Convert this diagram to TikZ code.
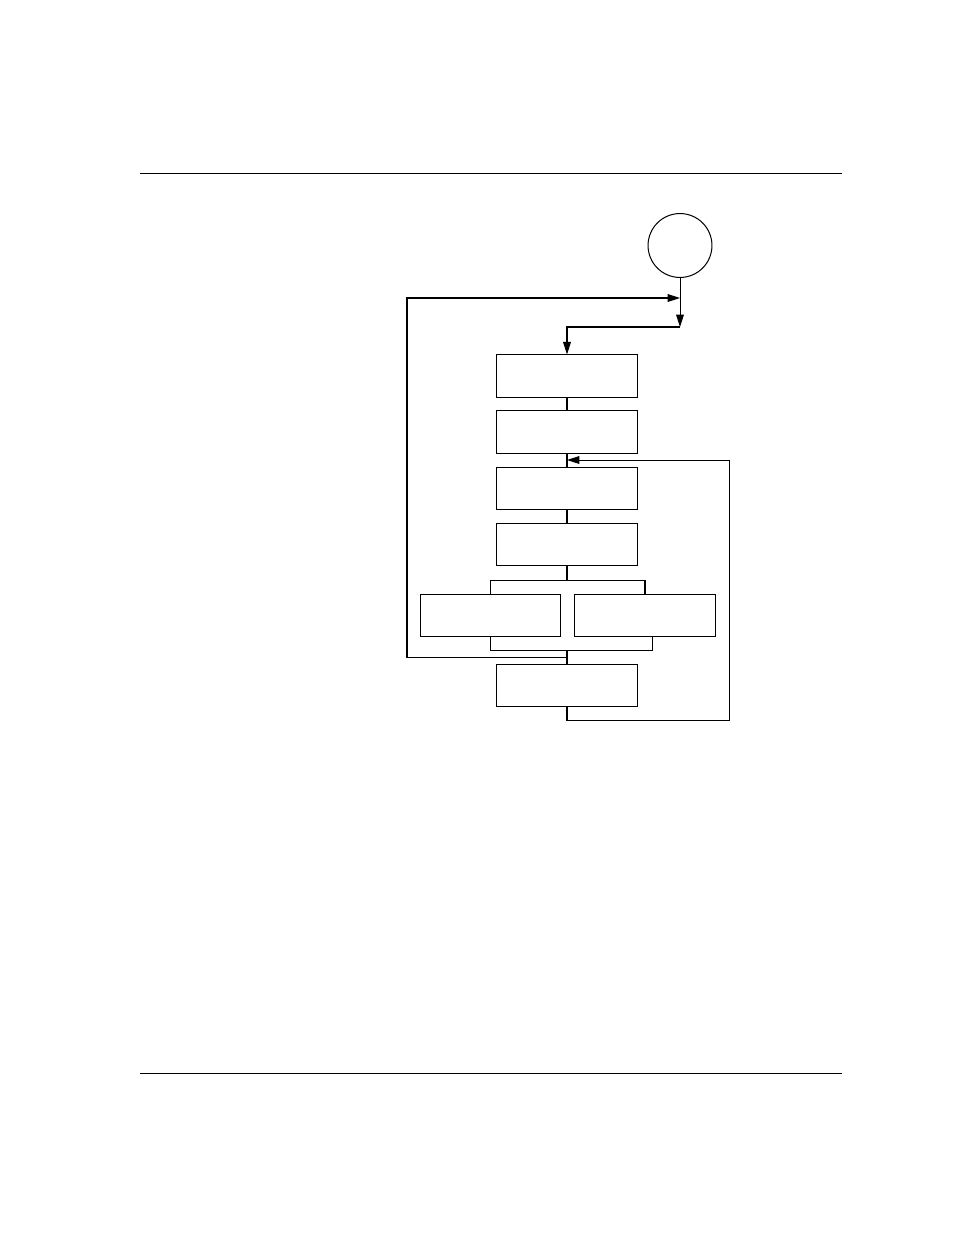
\documentclass[tikz,border=0pt]{standalone}
\usepackage{tikz}
\usetikzlibrary{arrows.meta}

\tikzset{
  blk/.style={draw, rectangle, minimum width=90pt, minimum height=27pt, inner sep=0pt},
  startc/.style={draw, circle, minimum size=41pt, inner sep=0pt},
  lnk/.style={-{Triangle[length=8pt,width=5pt]}}
}

\begin{document}
\begin{tikzpicture}[x=0.6416pt,y=-0.6416pt,line width=0.65pt]
\useasboundingbox (0,0) rectangle (954,1235);
% page rules
\draw[line width=0.55pt] (140,173) -- (842,173);
\draw[line width=0.55pt] (140,1073) -- (842,1073);
% blocks
\node[startc] (st) at (680,245.5) {};
\node[blk] (b1) at (567,376) {};
\node[blk] (b2) at (567,432) {};
\node[blk] (b3) at (567,488.3) {};
\node[blk] (b4) at (567,544.3) {};
\node[blk] (bl) at (490.5,615.3) {};
\node[blk] (br) at (645,615.3) {};
\node[blk] (b5) at (567,685.3) {};
% junctions
\coordinate (j0) at (680,298);
\coordinate (j1) at (680,327);
\coordinate (t3) at (567,460);
\coordinate (s) at (567,580);
\coordinate (m1) at (567,650.3);
\coordinate (m2) at (567,657);
\coordinate (cL) at (407,298);
\coordinate (cR) at (729.3,720);
% links
\draw[lnk] (st.south) -- (j1);
\draw[lnk] (j1) -| (b1.north);
\draw (b1.south) -- (b2.north);
\draw (b2.south) -- (b3.north);
\draw (b3.south) -- (b4.north);
\draw (b4.south) -- (s);
\draw (s) -| (bl.north);
\draw (s) -| (br.north);
\draw (bl.south) |- (m1);
\draw ([xshift=4.7pt]br.south) |- (m1);
\draw (m1) -- (b5.north);
\draw[lnk] (m2) -| (cL) -- (j0);
\draw[lnk] (b5.south) |- (cR) |- (t3);
\end{tikzpicture}
\end{document}
